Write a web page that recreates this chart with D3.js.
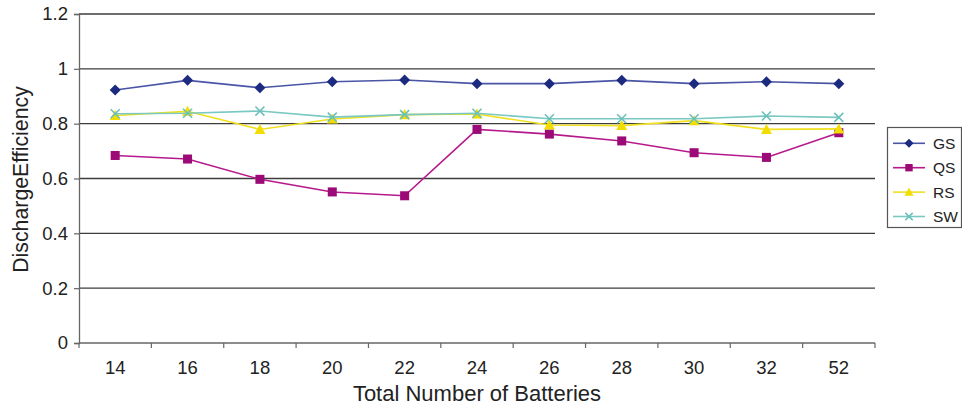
<!DOCTYPE html>
<html>
<head>
<meta charset="utf-8">
<script src="https://cdn.jsdelivr.net/npm/d3@7"></script>
<style>
  html, body { margin: 0; padding: 0; background: #fff; }
  svg { display: block; font-family: "Liberation Sans", Arial, sans-serif; }
</style>
</head>
<body>
<svg id="chart" width="962" height="408"></svg>
<script>
// Battery counts on the x axis
const categories = ["14", "16", "18", "20", "22", "24", "26", "28", "30", "32", "52"];

// Discharge efficiency per battery count
const gsValues = [0.923, 0.958, 0.931, 0.953, 0.959, 0.946, 0.946, 0.958, 0.946, 0.953, 0.946];
const qsValues = [0.684, 0.671, 0.597, 0.551, 0.537, 0.779, 0.762, 0.737, 0.694, 0.677, 0.767];
const rsValues = [0.830, 0.845, 0.779, 0.817, 0.833, 0.835, 0.795, 0.793, 0.811, 0.779, 0.781];
const swValues = [0.836, 0.838, 0.846, 0.824, 0.833, 0.838, 0.818, 0.818, 0.818, 0.828, 0.823];

const yTicks = [0, 0.2, 0.4, 0.6, 0.8, 1, 1.2];

const seriesNames = ["GS", "QS", "RS", "SW"];
const seriesValues = [gsValues, qsValues, rsValues, swValues];

const style = {
  GS: { line: "#4a55a6", fill: "#1c2a80", symbol: "diamond" },
  QS: { line: "#b5198c", fill: "#9c0a78", symbol: "square" },
  RS: { line: "#f0e020", fill: "#f2dd00", symbol: "triangle" },
  SW: { line: "#7ac8c2", fill: "#6cc0ba", symbol: "cross" }
};

const svg = d3.select("#chart");
const margin = { left: 79, top: 14, right: 875, bottom: 343 };

const x = d3.scaleBand().domain(categories).range([margin.left, margin.right]).padding(0);
const y = d3.scaleLinear().domain([0, 1.2]).range([margin.bottom, margin.top]);

// Horizontal gridlines
svg.append("g")
  .selectAll("line")
  .data(yTicks.filter(d => d > 0))
  .join("line")
  .attr("x1", margin.left).attr("x2", margin.right)
  .attr("y1", d => y(d)).attr("y2", d => y(d))
  .attr("stroke", "#3c3c3c").attr("stroke-width", 1.3);

// Y axis
const yAxis = svg.append("g")
  .attr("transform", `translate(${margin.left},0)`)
  .call(d3.axisLeft(y).tickValues(yTicks).tickFormat(d3.format("~g")).tickSize(5).tickPadding(6));
yAxis.select(".domain").attr("stroke", "#666").attr("stroke-width", 1.3);
yAxis.selectAll(".tick line").attr("stroke", "#666").attr("stroke-width", 1.2);
yAxis.selectAll(".tick text")
  .attr("font-size", 18.5).attr("fill", "#222")
  .attr("font-family", "'Liberation Sans', Arial, sans-serif");

// X axis with tick marks at category boundaries
const xAxisG = svg.append("g").attr("transform", `translate(0,${margin.bottom})`);
xAxisG.append("line")
  .attr("x1", margin.left).attr("x2", margin.right)
  .attr("stroke", "#666").attr("stroke-width", 1.3);
const boundaries = categories.map(c => x(c)).concat([x(categories[categories.length - 1]) + x.bandwidth()]);
xAxisG.selectAll("line.tk")
  .data(boundaries)
  .join("line").attr("class", "tk")
  .attr("x1", d => d).attr("x2", d => d)
  .attr("y1", 0).attr("y2", 5)
  .attr("stroke", "#666").attr("stroke-width", 1.2);
xAxisG.selectAll("text")
  .data(categories)
  .join("text")
  .attr("x", d => x(d) + x.bandwidth() / 2)
  .attr("y", 31)
  .attr("text-anchor", "middle")
  .attr("font-size", 18.5).attr("fill", "#222")
  .text(d => d);

// Axis titles
svg.append("text")
  .attr("x", (margin.left + margin.right) / 2)
  .attr("y", 401)
  .attr("text-anchor", "middle")
  .attr("font-size", 22).attr("fill", "#222")
  .text("Total Number of Batteries");

svg.append("text")
  .attr("transform", `translate(27.5,${(margin.top + margin.bottom) / 2 + 1}) rotate(-90)`)
  .attr("text-anchor", "middle")
  .attr("font-size", 21.3).attr("fill", "#222")
  .text("DischargeEfficiency");

// Marker drawing; r scales the glyph size
function drawMarker(g, name, cx, cy, r) {
  const st = style[name];
  if (st.symbol === "diamond") {
    g.append("path").attr("d", `M${cx},${cy - r}L${cx + r},${cy}L${cx},${cy + r}L${cx - r},${cy}Z`)
      .attr("fill", st.fill);
  } else if (st.symbol === "square") {
    const h = r * 0.82;
    g.append("rect").attr("x", cx - h).attr("y", cy - h).attr("width", 2 * h).attr("height", 2 * h)
      .attr("fill", st.fill);
  } else if (st.symbol === "triangle") {
    g.append("path").attr("d", `M${cx},${cy - r}L${cx + r},${cy + r * 0.82}L${cx - r},${cy + r * 0.82}Z`)
      .attr("fill", st.fill);
  } else {
    const h = r * 0.82;
    g.append("path").attr("d", `M${cx - h},${cy - h}L${cx + h},${cy + h}M${cx + h},${cy - h}L${cx - h},${cy + h}`)
      .attr("stroke", st.fill).attr("stroke-width", 1.6).attr("fill", "none");
  }
}

const line = d3.line()
  .x((d, i) => x(categories[i]) + x.bandwidth() / 2)
  .y(d => y(d));

seriesNames.forEach((name, si) => {
  const vals = seriesValues[si];
  const g = svg.append("g");
  g.append("path")
    .datum(vals)
    .attr("d", line)
    .attr("fill", "none")
    .attr("stroke", style[name].line)
    .attr("stroke-width", 1.6);
  vals.forEach((v, i) => {
    drawMarker(g, name, x(categories[i]) + x.bandwidth() / 2, y(v), 5.5);
  });
});

// Legend
const legend = svg.append("g");
legend.append("rect")
  .attr("x", 887.5).attr("y", 127.5).attr("width", 74).attr("height", 100)
  .attr("fill", "#fff").attr("stroke", "#555").attr("stroke-width", 1.2);
seriesNames.forEach((name, i) => {
  const cy = 143.3 + i * 24.4;
  legend.append("line")
    .attr("x1", 893).attr("x2", 925).attr("y1", cy).attr("y2", cy)
    .attr("stroke", style[name].line).attr("stroke-width", 1.6);
  drawMarker(legend, name, 909, cy, 4.5);
  legend.append("text")
    .attr("x", 933).attr("y", cy + 5.5)
    .attr("font-size", 15.5).attr("fill", "#222")
    .text(name);
});
</script>
</body>
</html>
